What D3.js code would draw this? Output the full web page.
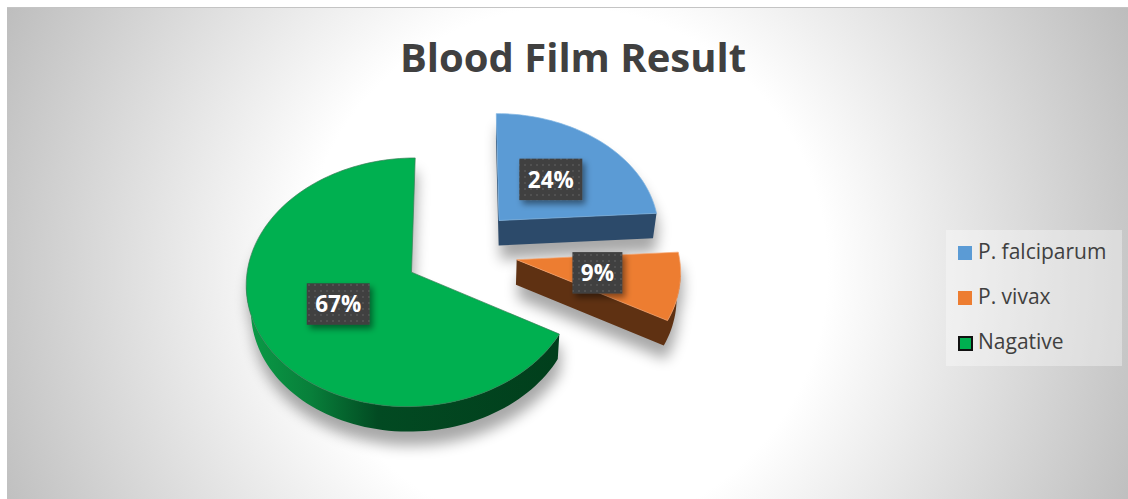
<!DOCTYPE html>
<html>
<head>
<meta charset="utf-8">
<script src="https://cdn.jsdelivr.net/npm/d3@7"></script>
<style>
	html, body { margin: 0; padding: 0; background: #fff; overflow: hidden; }
	text { font-family: "Open Sans", sans-serif; }
</style>
</head>
<body>
<svg id="chart" width="1128" height="499"></svg>
<script>
const categories = ['P. falciparum', 'P. vivax', 'Nagative'];
const percents = [24, 9, 67];
const topColors = ['#5b9bd5', '#ed7d31', '#00b050'];
const wallColors = ['#2c4a6a', '#5f3112', 'url(#greenWall)'];
const edgeColors = ['#7fb4e3', '#f6a26b', '#3a8058'];

const svg = d3.select('#chart');
const defs = svg.append('defs');

// background
const bg = defs.append('radialGradient').attr('id', 'bg')
	.attr('gradientUnits', 'userSpaceOnUse')
	.attr('cx', 565).attr('cy', 270).attr('r', 625);
bg.append('stop').attr('offset', 0.42).attr('stop-color', '#ffffff');
bg.append('stop').attr('offset', 1).attr('stop-color', '#bcbcbc');

const greenWall = defs.append('linearGradient').attr('id', 'greenWall')
	.attr('gradientUnits', 'userSpaceOnUse')
	.attr('x1', 250).attr('x2', 555).attr('y1', 0).attr('y2', 0);
greenWall.append('stop').attr('offset', 0).attr('stop-color', '#0a9a46');
greenWall.append('stop').attr('offset', 0.2).attr('stop-color', '#087f3a');
greenWall.append('stop').attr('offset', 0.42).attr('stop-color', '#024a22');
greenWall.append('stop').attr('offset', 1).attr('stop-color', '#013f1c');

defs.append('filter').attr('id', 'blur')
	.attr('x', '-30%').attr('y', '-30%').attr('width', '160%').attr('height', '160%')
	.append('feGaussianBlur').attr('stdDeviation', 7);

const boxShadow = defs.append('filter').attr('id', 'boxShadow')
	.attr('x', '-30%').attr('y', '-30%').attr('width', '160%').attr('height', '160%');
boxShadow.append('feDropShadow')
	.attr('dx', 3).attr('dy', 4).attr('stdDeviation', 3)
	.attr('flood-color', '#000').attr('flood-opacity', 0.45);

const dots = defs.append('pattern').attr('id', 'dots')
	.attr('width', 6).attr('height', 6).attr('patternUnits', 'userSpaceOnUse');
dots.append('rect').attr('width', 6).attr('height', 6).attr('fill', '#404040');
dots.append('circle').attr('cx', 3).attr('cy', 3).attr('r', 1).attr('fill', '#565656');

svg.append('rect')
	.attr('x', 7).attr('y', 8).attr('width', 1121).attr('height', 491)
	.attr('fill', 'url(#bg)');
svg.append('line')
	.attr('x1', 7).attr('x2', 1128).attr('y1', 7.5).attr('y2', 7.5)
	.attr('stroke', '#c4c4c4');

svg.append('text')
	.attr('x', 573).attr('y', 72)
	.attr('text-anchor', 'middle')
	.attr('font-size', 40).attr('font-weight', 700)
	.attr('fill', '#404040')
	.text('Blood Film Result');

// tilted pie, disc units are projected with a bit of perspective
const cx = 461, cy = 250.5, scaleX = 162, scaleY = 120, persp = 0.08;
const explode = 0.35, depth = 25;

function project(u, v, d) {
	const k = 1 - persp * v;
	const x = cx + scaleX * u / k;
	const y = cy + scaleY * v / k;
	return [480 + (x - 480) * (1 - 0.02 * d), y + depth * d];
}

// point of a slice at clockwise angle a, radius r
function slicePoint(s, a, r, d) {
	const mid = (s.startAngle + s.endAngle) / 2;
	const u = explode * Math.sin(mid) + r * Math.sin(a);
	const v = -explode * Math.cos(mid) - r * Math.cos(a);
	return project(u, v, d);
}

function outline(s, d) {
	const n = Math.ceil((s.endAngle - s.startAngle) / 0.035);
	const pts = [slicePoint(s, 0, 0, d)];
	d3.range(n + 1).forEach(i => {
		pts.push(slicePoint(s, s.startAngle + (s.endAngle - s.startAngle) * i / n, 1, d));
	});
	return pts;
}

const pie = d3.pie().sort(null).value(d => d);
const slices = pie(percents);
const line = d3.line().curve(d3.curveLinearClosed);

// side of a slice as one path, only the edges that face the viewer
function wallPath(s) {
	const a = outline(s, 0), b = outline(s, 1);
	return a.map((p, i) => {
		const j = (i + 1) % a.length;
		// closing edge is the radial one at endAngle, hidden when it points away
		const front = j === 0 ? Math.sin(s.endAngle) > 0.01 : a[j][0] < p[0];
		return front ? line([p, a[j], b[j], b[i]]) : '';
	}).join('');
}

const order = [2, 0, 1];

order.forEach(i => {
	const s = slices[i];

	const shadow = svg.append('g')
		.attr('filter', 'url(#blur)')
		.attr('opacity', 0.34)
		.attr('transform', 'translate(2,14)');
	shadow.append('path').attr('d', wallPath(s)).attr('fill', '#000');
	shadow.append('path').attr('d', line(outline(s, 0))).attr('fill', '#000');

	svg.append('path')
		.attr('d', wallPath(s))
		.attr('fill', wallColors[i]);

	svg.append('path')
		.attr('d', line(outline(s, 0)))
		.attr('fill', topColors[i])
		.attr('stroke', edgeColors[i])
		.attr('stroke-width', 0.7);
});

// data labels
const boxW = d3.scaleLinear().domain([1, 2]).range([50, 63]);
slices.forEach((s, i) => {
	const mid = (s.startAngle + s.endAngle) / 2;
	const [x, y] = slicePoint(s, mid, 0.5, 0);
	const w = boxW(String(percents[i]).length);
	svg.append('rect')
		.attr('x', x - w / 2).attr('y', y - 21)
		.attr('width', w).attr('height', 41.5)
		.attr('fill', 'url(#dots)')
		.attr('filter', 'url(#boxShadow)');
	svg.append('text')
		.attr('x', x).attr('y', y + 8)
		.attr('text-anchor', 'middle')
		.attr('font-size', 22.5).attr('font-weight', 700)
		.attr('fill', '#fff')
		.text(percents[i] + '%');
});

// legend
const legendY = d3.scalePoint().domain(categories).range([253, 343]);

svg.append('rect')
	.attr('x', 946).attr('y', 230).attr('width', 176).attr('height', 136)
	.attr('fill', '#fff').attr('fill-opacity', 0.35);

const legend = svg.append('g').selectAll('g').data(categories).join('g')
	.attr('transform', d => `translate(0,${legendY(d)})`);

legend.append('rect')
	.attr('x', (d, i) => i === 2 ? 959 : 958)
	.attr('y', (d, i) => i === 2 ? -6 : -7)
	.attr('width', (d, i) => i === 2 ? 13 : 14)
	.attr('height', (d, i) => i === 2 ? 13 : 14)
	.attr('fill', (d, i) => topColors[i])
	.attr('stroke', (d, i) => i === 2 ? '#111' : 'none')
	.attr('stroke-width', 2);

legend.append('text')
	.attr('x', 978).attr('y', 6)
	.attr('font-size', 21)
	.attr('fill', '#404040')
	.text(d => d);
</script>
</body>
</html>
